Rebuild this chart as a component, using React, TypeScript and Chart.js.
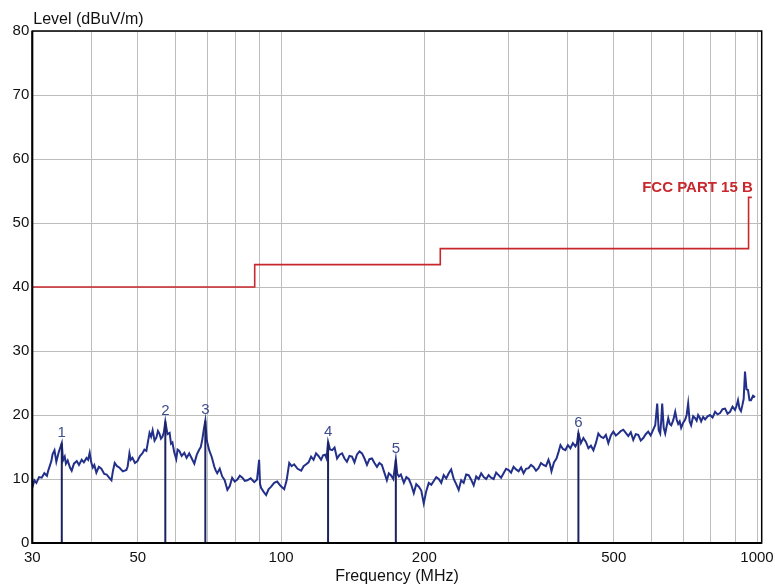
import React, { useEffect, useRef } from 'react';
import { Chart, registerables } from 'chart.js';

Chart.register(...registerables);

const FONT = '"Liberation Sans", Arial, sans-serif';

// Axis ticks
const xGridTicks = [30, 40, 50, 60, 70, 80, 90, 100, 200, 300, 400, 500, 600, 700, 800, 900, 1000];
const xLabelTicks = [30, 50, 100, 200, 500, 1000];
const yMin = 0;
const yMax = 80;
const yStep = 10;

const xAxisTitle = 'Frequency (MHz)';
const yAxisTitle = 'Level (dBuV/m)';
const limitName = 'FCC PART 15 B';

// Measured trace (MHz, dBuV/m)
const traceFreq = [
  30.0, 30.3, 30.6, 31.0, 31.4, 31.8, 32.2, 32.4, 32.6, 32.9, 33.1, 33.4, 33.7, 34.1, 34.6, 34.8,
  35.1, 35.3, 35.6, 36.0, 36.3, 36.7, 37.2, 37.6, 38.1, 38.5, 39.0, 39.3, 39.6, 39.9, 40.2, 40.5,
  40.9, 41.4, 41.9, 42.5, 43.0, 43.5, 44.0, 44.3, 44.7, 45.2, 45.7, 46.5, 47.3, 47.6, 48.0, 48.3,
  48.7, 49.3, 49.9, 50.5, 51.1, 51.6, 52.1, 52.5, 52.9, 53.3, 53.7, 54.2, 54.7, 55.1, 55.5, 55.9,
  56.3, 56.7, 57.1, 57.7, 58.3, 58.7, 59.1, 59.6, 60.2, 60.6, 61.1, 61.8, 62.6, 63.3, 64.1, 64.9,
  65.7, 66.5, 67.3, 67.8, 68.3, 68.8, 69.3, 69.8, 70.6, 71.5, 72.4, 72.9, 73.4,
  74.3, 75.2, 76.1, 77.1, 78.0, 78.9, 79.9, 80.9, 81.9, 82.9, 83.9, 84.9, 86.3, 87.8, 89.0, 89.9,
  90.3, 90.8, 91.9, 93.0, 94.1, 95.3, 96.7, 98.1, 99.8, 101.5, 102.7, 104.0, 105.2, 106.5, 108.3,
  110.2, 111.5, 112.9, 114.2, 115.6, 117.0, 118.4, 119.8, 121.3, 122.5, 123.7, 124.6, 125.5, 126.7,
  128.0, 129.5, 131.1, 132.7, 134.3, 135.9, 137.5, 139.2, 140.9, 142.6, 144.3, 146.1, 147.9, 149.7,
  151.5, 153.3, 155.2, 157.1, 159.0, 160.9, 162.8, 164.8, 166.8, 168.4, 170.1, 172.1, 174.2, 175.4,
  176.8, 178.5,
  181.1, 183.3, 185.5, 187.7, 190.0, 192.3, 194.7, 197.0, 199.4, 201.8, 204.3, 206.8, 209.3, 211.8,
  214.4, 217.0, 219.6, 222.3, 225.0, 227.7, 230.5, 233.3, 236.1, 239.0, 241.9, 244.8, 247.8, 250.8,
  253.9, 257.0, 260.1, 263.3, 266.5, 269.7, 272.9, 276.2, 279.6, 283.0, 286.4, 289.9, 293.4, 297.0,
  300.6, 304.2, 307.9, 311.7, 315.5, 319.3, 323.2, 327.1, 331.1, 335.1, 339.2, 343.3, 347.4, 351.6,
  355.9, 360.2, 364.6, 367.2, 369.9, 374.4, 379.0, 382.7, 386.4, 391.0, 395.7, 400.5, 405.4, 410.3,
  415.3, 418.3, 421.4,
  426.5, 431.7, 437.0, 442.3, 447.7, 453.1, 458.6, 464.1, 469.8, 475.5, 481.3, 487.1, 493.0, 499.0,
  505.1, 511.2, 517.4, 523.6, 530.0, 536.4, 543.0, 549.5, 556.2, 563.0, 569.8, 576.7, 583.7, 590.7,
  597.9, 605.2, 611.1, 617.0, 621.5, 626.0, 629.0, 632.1, 636.7, 641.4, 646.1, 650.9, 655.6, 660.4,
  666.8, 673.2, 678.0, 682.9, 687.9, 692.9, 699.6, 706.4, 711.5, 716.7, 721.9, 727.1, 734.2, 741.4,
  746.8, 752.2, 757.7, 763.2, 770.5, 777.9, 787.3, 796.9, 806.6, 816.4, 826.3, 836.4, 846.5, 856.8,
  867.2, 877.8, 888.3, 899.0, 905.6, 912.2, 918.8, 925.5, 931.5, 937.5, 943.6, 950.5, 957.4, 964.4,
  971.4, 980.9, 990.4,
];
const traceLevel = [
  8.6, 9.8, 9.4, 10.3, 10.2, 10.9, 10.5, 11.3, 11.9, 12.8, 13.9, 14.5, 12.7, 14.2, 15.6, 12.9,
  13.5, 12.4, 12.9, 11.8, 11.3, 12.4, 12.8, 12.2, 13.0, 12.6, 13.3, 13.0, 14.1, 12.6, 11.8, 12.2,
  11.0, 11.9, 11.6, 10.8, 10.7, 10.2, 9.8, 11.2, 12.5, 12.0, 11.8, 11.2, 11.4, 12.0, 14.0, 13.0,
  13.3, 12.5, 12.8, 13.6, 14.0, 14.6, 14.4, 15.8, 17.2, 16.6, 17.6, 16.0, 16.5, 17.5, 17.1, 16.3,
  16.6, 17.3, 19.0, 17.0, 17.2, 15.5, 15.7, 14.2, 13.1, 14.6, 14.4, 13.6, 14.1, 13.3, 14.0, 13.2,
  12.4, 13.8, 14.6, 15.0, 16.2, 17.8, 19.1, 16.0, 14.5, 13.4, 11.9, 11.3, 10.9,
  11.6, 10.4, 9.8, 8.3, 8.9, 10.2, 9.6, 9.9, 10.5, 10.2, 9.7, 9.8, 10.1, 9.5, 9.9, 13.0,
  9.2, 8.6, 8.0, 7.5, 8.4, 8.8, 9.4, 9.6, 8.9, 8.4, 9.8, 12.5, 12.0, 12.3, 11.6,
  11.3, 12.0, 12.3, 12.6, 13.5, 13.0, 14.0, 13.6, 13.0, 13.7, 13.8, 13.2, 15.8, 14.6,
  14.5, 14.9, 13.2, 13.8, 14.0, 13.2, 12.7, 13.6, 13.5, 12.6, 13.8, 14.3, 14.0, 13.2,
  12.2, 13.1, 13.2, 12.5, 11.9, 12.5, 12.2, 11.0, 9.8, 10.9, 10.6, 10.0, 13.0, 10.8,
  10.4, 10.7,
  9.4, 10.3, 10.0, 9.1, 7.8, 9.2, 8.8, 8.2, 6.2, 8.1, 9.4, 9.1, 9.7, 10.3,
  10.0, 9.4, 10.6, 10.1, 10.9, 11.5, 10.0, 9.2, 8.3, 9.8, 9.4, 10.7, 10.6, 9.9,
  9.0, 10.4, 10.0, 10.9, 10.3, 10.0, 10.6, 10.2, 10.0, 11.0, 10.6, 10.2, 10.9, 11.6,
  11.4, 11.0, 11.9, 11.5, 11.2, 11.8, 10.9, 11.6, 11.7, 12.2, 11.9, 11.3, 11.7, 12.5,
  12.2, 12.0, 13.0, 12.3, 11.2, 12.6, 13.2, 14.2, 15.3, 14.7, 14.5, 15.3, 14.8, 15.6,
  15.1, 15.5, 17.2,
  15.6, 16.4, 15.8, 14.8, 15.2, 14.5, 15.6, 17.1, 16.6, 16.4, 16.9, 15.6, 16.8, 17.4,
  16.8, 17.1, 17.5, 17.7, 17.2, 16.7, 17.3, 16.1, 17.0, 16.9, 16.0, 16.4, 17.0, 17.4,
  16.8, 17.7, 18.4, 21.8, 17.6, 17.1, 19.0, 21.8, 18.0, 17.1, 18.3, 19.5, 18.6, 18.4,
  19.2, 20.5, 19.3, 18.6, 19.0, 18.0, 18.8, 19.3, 20.0, 21.8, 19.0, 18.4, 19.8, 19.5,
  19.1, 20.0, 19.6, 19.0, 19.7, 19.3, 19.8, 20.0, 19.6, 20.5, 20.1, 20.3, 20.9, 21.0,
  20.2, 20.5, 21.3, 20.8, 21.4, 22.3, 21.0, 20.6, 21.5, 22.5, 26.8, 24.0, 23.9, 22.3,
  22.3, 23.0, 22.8,
];

// FCC Part 15 B limit (step line)
const limitFreq = [30, 88, 88, 216, 216, 960, 960, 975];
const limitLevel = [40, 40, 43.5, 43.5, 46, 46, 54, 54];

// Peak markers
const markerFreq = [34.6, 57.1, 69.3, 125.5, 174.2, 421.4];
const markerLevel = [15.6, 19.0, 19.1, 15.8, 13.0, 17.2];
const markerLabel = ['1', '2', '3', '4', '5', '6'];

const TRACE_COLOR = '#22308a';
const MARKER_COLOR = '#1c2260';
const MARKER_TEXT = '#3e4c8e';
const LIMIT_COLOR = '#c8282d';
const GRID_COLOR = '#bdbdbd';
const TEXT_COLOR = '#111111';

const overlayPlugin = {
  id: 'overlay',
  afterDraw(chart: any) {
    const { ctx, chartArea: a, scales } = chart;
    const x = scales.x;
    const y = scales.y;
    ctx.save();
    // marker numbers
    ctx.font = `15px ${FONT}`;
    ctx.fillStyle = MARKER_TEXT;
    ctx.textAlign = 'center';
    ctx.textBaseline = 'middle';
    markerFreq.forEach((f, i) => {
      ctx.fillText(markerLabel[i], x.getPixelForValue(f), y.getPixelForValue(markerLevel[i]) - 10.5);
    });
    // limit name
    ctx.font = `bold 15px ${FONT}`;
    ctx.fillStyle = LIMIT_COLOR;
    ctx.textAlign = 'right';
    ctx.textBaseline = 'alphabetic';
    const lastF = limitFreq[limitFreq.length - 1];
    const lastL = limitLevel[limitLevel.length - 1];
    ctx.fillText(limitName, x.getPixelForValue(lastF) + 1, y.getPixelForValue(lastL) - 5);
    // y axis title
    ctx.font = `16px ${FONT}`;
    ctx.fillStyle = TEXT_COLOR;
    ctx.textAlign = 'left';
    ctx.textBaseline = 'middle';
    ctx.fillText(yAxisTitle, a.left + 1, a.top - 11);
    // frame
    ctx.strokeStyle = '#000';
    ctx.lineWidth = 1.5;
    ctx.strokeRect(a.left, a.top, a.right - a.left, a.bottom - a.top);
    ctx.lineWidth = 2;
    ctx.beginPath();
    ctx.moveTo(a.left, a.top);
    ctx.lineTo(a.left, a.bottom);
    ctx.lineTo(a.right, a.bottom);
    ctx.stroke();
    ctx.restore();
  },
};

export default function App() {
  const canvasRef = useRef<HTMLCanvasElement | null>(null);

  useEffect(() => {
    if (!canvasRef.current) return;
    const traceData = traceFreq.map((f, i) => ({ x: f, y: traceLevel[i] }));
    const limitData = limitFreq.map((f, i) => ({ x: f, y: limitLevel[i] }));
    const markerSets = markerFreq.map((f, i) => ({
      label: 'Marker ' + markerLabel[i],
      data: [
        { x: f, y: 0 },
        { x: f, y: markerLevel[i] },
      ],
      borderColor: MARKER_COLOR,
      borderWidth: 2,
      pointRadius: 0,
      fill: false,
    }));

    const chart = new Chart(canvasRef.current, {
      type: 'line',
      data: {
        datasets: [
          ...markerSets,
          {
            label: 'Trace',
            data: traceData,
            borderColor: TRACE_COLOR,
            borderWidth: 2,
            pointRadius: 0,
            tension: 0,
            fill: false,
          },
          {
            label: limitName,
            data: limitData,
            borderColor: LIMIT_COLOR,
            borderWidth: 1.6,
            pointRadius: 0,
            tension: 0,
            fill: false,
          },
        ],
      },
      options: {
        responsive: false,
        animation: false,
        devicePixelRatio: 1,
        layout: { padding: { top: 31, right: 13.3, bottom: 0, left: 0 } },
        plugins: {
          legend: { display: false },
          tooltip: { enabled: false },
          title: { display: false },
        },
        scales: {
          x: {
            type: 'logarithmic',
            min: 30,
            max: 1023,
            border: { display: false },
            grid: { color: GRID_COLOR, lineWidth: 1, drawTicks: false },
            afterBuildTicks: (scale: any) => {
              scale.ticks = xGridTicks.map((v) => ({ value: v }));
            },
            afterFit: (scale: any) => {
              scale.height = 43;
              scale.paddingLeft = 0;
              scale.paddingRight = 0;
            },
            ticks: {
              autoSkip: false,
              maxRotation: 0,
              minRotation: 0,
              padding: 6,
              color: TEXT_COLOR,
              font: { family: FONT, size: 15 },
              callback: (value: any) => (xLabelTicks.includes(Number(value)) ? String(value) : ''),
            },
            title: {
              display: true,
              text: xAxisTitle,
              color: TEXT_COLOR,
              font: { family: FONT, size: 16 },
              padding: 0,
            },
          },
          y: {
            type: 'linear',
            min: yMin,
            max: yMax,
            border: { display: false },
            grid: { color: GRID_COLOR, lineWidth: 1, drawTicks: false },
            afterFit: (scale: any) => {
              scale.width = 32.3;
              scale.paddingTop = 0;
              scale.paddingBottom = 0;
            },
            ticks: {
              stepSize: yStep,
              padding: 3,
              color: TEXT_COLOR,
              font: { family: FONT, size: 15 },
            },
          },
        },
      },
      plugins: [overlayPlugin],
    } as any);

    return () => chart.destroy();
  }, []);

  return (
    <div style={{ position: 'absolute', left: 0, top: 0, width: 775, height: 586, background: '#fff' }}>
      <canvas ref={canvasRef} width={775} height={586} style={{ width: 775, height: 586, display: 'block' }} />
    </div>
  );
}
